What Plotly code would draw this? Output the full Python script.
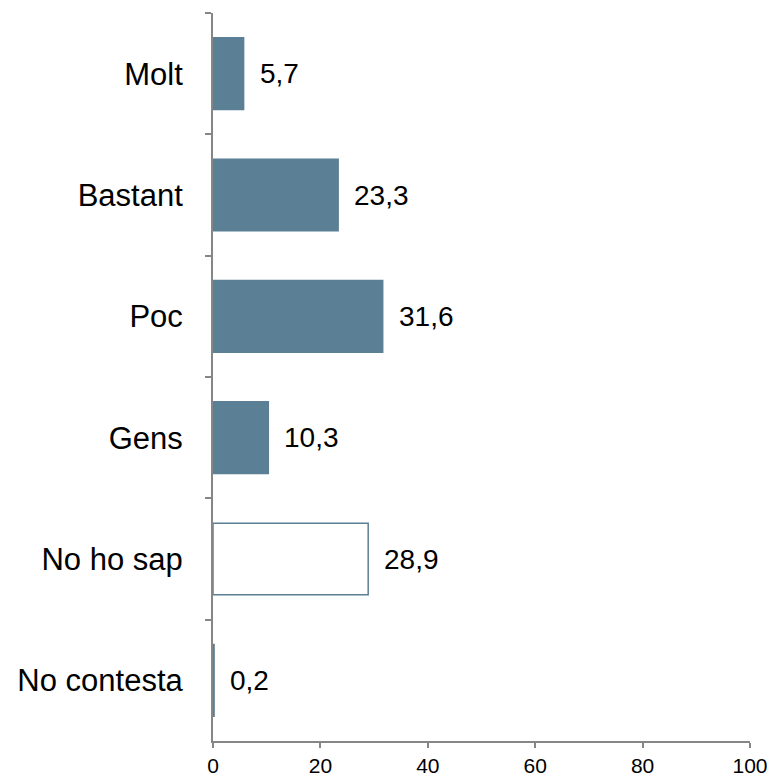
import plotly.graph_objects as go

categories = ["Molt", "Bastant", "Poc", "Gens", "No ho sap", "No contesta"]
values = [5.7, 23.3, 31.6, 10.3, 28.9, 0.2]
labels = ["5,7", "23,3", "31,6", "10,3", "28,9", "0,2"]

bar_color = "#5B7F95"
fills = [bar_color, bar_color, bar_color, bar_color, "white", "white"]
FONT = "Liberation Sans, Arial, sans-serif"

fig = go.Figure()
fig.add_trace(go.Bar(
    y=categories, x=values, orientation="h",
    marker=dict(color=fills, line=dict(color=bar_color, width=1.5)),
    hoverinfo="skip",
))

for c, v, t in zip(categories, values, labels):
    fig.add_annotation(x=v, y=c, text=t, showarrow=False, xanchor="left",
                       xshift=14, font=dict(size=28, color="black", family=FONT))

fig.update_layout(
    width=775, height=779,
    margin=dict(l=213, r=25, t=13, b=38),
    plot_bgcolor="white", paper_bgcolor="white",
    bargap=0.41, showlegend=False,
    font=dict(family=FONT, color="black"),
)
fig.update_xaxes(range=[0, 100], tickvals=[0, 20, 40, 60, 80, 100],
                 showgrid=False, zeroline=False, showline=True,
                 linecolor="#868686", linewidth=2, ticks="outside",
                 ticklen=5, tickwidth=2, tickcolor="#868686",
                 tickfont=dict(size=21), ticklabelstandoff=0,
                 automargin=False, fixedrange=True)
fig.update_yaxes(autorange="reversed", showgrid=False, zeroline=False,
                 showline=True, linecolor="#868686", linewidth=2,
                 ticks="outside", tickson="boundaries", ticklen=6, tickwidth=2,
                 tickcolor="#868686", tickfont=dict(size=31),
                 ticklabelstandoff=22, automargin=False, fixedrange=True)

fig.write_html("out.html", config={"displayModeBar": False},
               post_script="document.body.style.margin='0';document.body.style.overflow='hidden';")
